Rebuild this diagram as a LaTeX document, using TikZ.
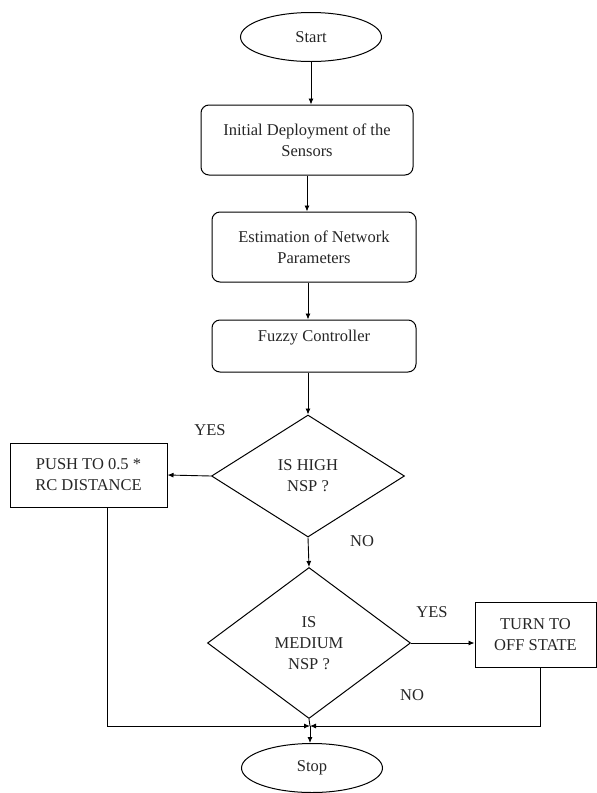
\documentclass[tikz,border=0pt]{standalone}
\usepackage{fontspec}
\setmainfont{Liberation Serif}
\usetikzlibrary{shapes.geometric,arrows.meta}
\begin{document}
\begin{tikzpicture}[x=1pt,y=-1pt,
 every node/.style={font=\fontsize{16.5}{21}\selectfont, align=center, text=black!85},
 term/.style={ellipse, draw, line width=1pt, minimum width=141pt, minimum height=49pt, inner sep=0pt},
 rbox/.style={rectangle, rounded corners=8pt, draw, line width=1pt, inner sep=0pt},
 sbox/.style={rectangle, draw, line width=1pt, inner sep=0pt},
 dec/.style={diamond, draw, line width=1pt, inner sep=0pt},
 arr/.style={line width=0.9pt, -{Latex[length=6pt,width=5pt]}},
 ln/.style={line width=0.9pt},
 lbl/.style={inner sep=0pt}]
\useasboundingbox (0,0) rectangle (597,793);
\node[term] (start) at (311,37) {Start};
\node[rbox, minimum width=212pt, minimum height=70pt] (init) at (307,140) {Initial Deployment of the\\Sensors};
\node[rbox, minimum width=204pt, minimum height=70pt] (est) at (314,247) {Estimation of Network\\Parameters};
\node[rbox, minimum width=204pt, minimum height=52pt] (fuzzy) at (314,346) {Fuzzy Controller\\ \mbox{}};
\node[dec, minimum width=193pt, minimum height=122pt] (d1) at (308,476) {IS HIGH\\NSP ?};
\node[sbox, minimum width=157pt, minimum height=64pt] (push) at (88.5,475) {PUSH TO 0.5 *\\RC DISTANCE};
\node[dec, minimum width=203pt, minimum height=151pt] (d2) at (309,643) {IS\\MEDIUM\\NSP ?};
\node[sbox, minimum width=121pt, minimum height=65pt] (turn) at (535.5,634.5) {TURN TO\\OFF STATE};
\node[term] (stop) at (312,768) {Stop};
\node[lbl] (yes1) at (210,430) {YES};
\node[lbl] (no1) at (362,541) {NO};
\node[lbl] (yes2) at (432,612) {YES};
\node[lbl] (no2) at (412,695) {NO};
\coordinate (j) at (310,726);
\draw[arr] (start.south) -- (start.south |- init.north);
\draw[arr] (init.south) -- (init.south |- est.north);
\draw[arr] (est.south -| d1.north) -- (fuzzy.north -| d1.north);
\draw[arr] (fuzzy.south -| d1.north) -- (d1.north);
\draw[arr] (d1.west) -- (push.east);
\draw[arr] (d1.south) -- (d2.north);
\draw[arr] (d2.east) -- (d2.east -| turn.west);
\draw[ln] (d2.south) -- (j);
\draw[arr] ([xshift=18.5pt]push.south) |- (j);
\draw[arr] ([xshift=4.5pt]turn.south) |- (j);
\draw[arr] (j) -- (j |- stop.north);
\end{tikzpicture}
\end{document}
